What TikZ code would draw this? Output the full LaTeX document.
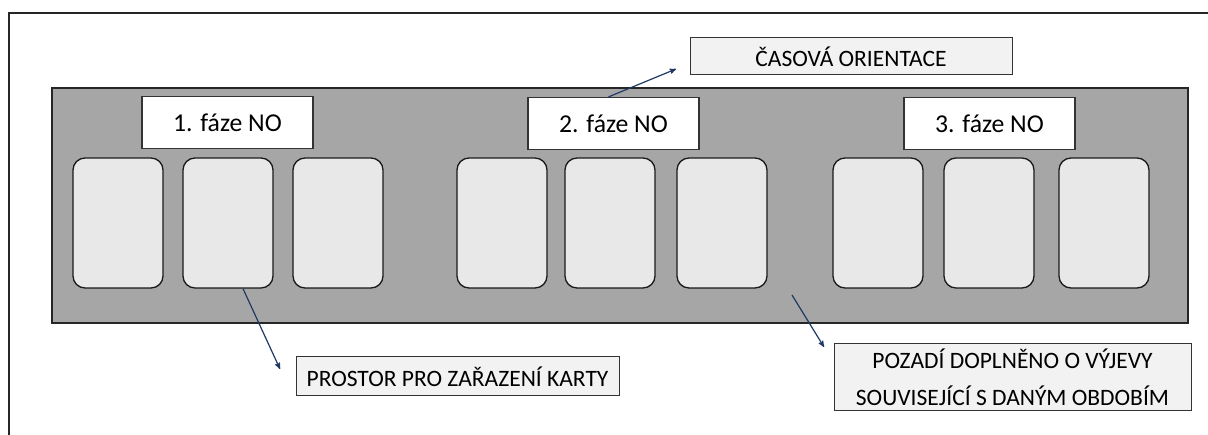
\documentclass[tikz,border=0pt]{standalone}
\usepackage{fontspec}
\setmainfont{Carlito}
\usetikzlibrary{arrows}
\definecolor{stripgray}{HTML}{A6A6A6}
\definecolor{cardgray}{HTML}{E8E8E8}
\definecolor{notegray}{HTML}{F2F2F2}
\definecolor{arrowblue}{HTML}{203864}

\begin{document}
\begin{tikzpicture}[x=1pt,y=-1pt,>=stealth',
    strip/.style={draw=black!85,line width=1.8pt,fill=stripgray,inner sep=0pt},
    phase/.style={draw=black!80,line width=1.2pt,fill=white,inner sep=0pt,
      minimum width=171pt,minimum height=52pt,font=\fontsize{25.7}{30}\selectfont},
    card/.style={draw=black!90,line width=1.3pt,fill=cardgray,rounded corners=12pt,
      inner sep=0pt,minimum width=90pt,minimum height=130pt},
    note/.style={draw=black!80,line width=1pt,fill=notegray,inner sep=0pt,
      align=center,font=\fontsize{23.5}{37}\selectfont},
    pointer/.style={->,draw=arrowblue,line width=1.2pt}]

    \useasboundingbox (0,0) rectangle (1208,435);

    % outer frame
    \draw[line width=2pt,black!85] (1210,13) -- (9,13) -- (9,437);

    % timeline strip
    \node[strip,minimum width=1136pt,minimum height=235pt] (strip) at (620,205.5) {};

    % phase titles
    \node[phase] (f1) at (227.5,122.5) {1. fáze NO};
    \node[phase] (f2) at (613.5,123.5) {2. fáze NO};
    \node[phase] (f3) at (989.5,123.5) {3. fáze NO};

    % cards of the 1. phase
    \node[card] (c11) at (118,223) {};
    \node[card] (c12) at (228,223) {};
    \node[card] (c13) at (338,223) {};

    % cards of the 2. phase
    \node[card] (c21) at (502,223) {};
    \node[card] (c22) at (610,223) {};
    \node[card] (c23) at (722,223) {};

    % cards of the 3. phase
    \node[card] (c31) at (878,223) {};
    \node[card] (c32) at (989,223) {};
    \node[card] (c33) at (1104,223) {};

    % notes
    \node[note,minimum width=322pt,minimum height=37pt] (time) at (851,56.5) {ČASOVÁ ORIENTACE};
    \node[note,minimum width=323pt,minimum height=39pt] (place) at (457.5,376.5) {PROSTOR PRO ZAŘAZENÍ KARTY};
    \node[note,minimum width=357pt,minimum height=67pt] (back) at (1012.5,377.5)
      {POZADÍ DOPLNĚNO O VÝJEVY\\SOUVISEJÍCÍ S DANÝM OBDOBÍM};

    % arrow ends
    \coordinate (t1) at (676,69);
    \coordinate (t2) at (280,369);
    \coordinate (s3) at (792,295);
    \coordinate (t3) at (824,347);

    \draw[pointer] ([xshift=-5pt]f2.north) -- (t1);
    \draw[pointer] ([xshift=15pt]c12.south) -- (t2);
    \draw[pointer] (s3) -- (t3);
\end{tikzpicture}
\end{document}
